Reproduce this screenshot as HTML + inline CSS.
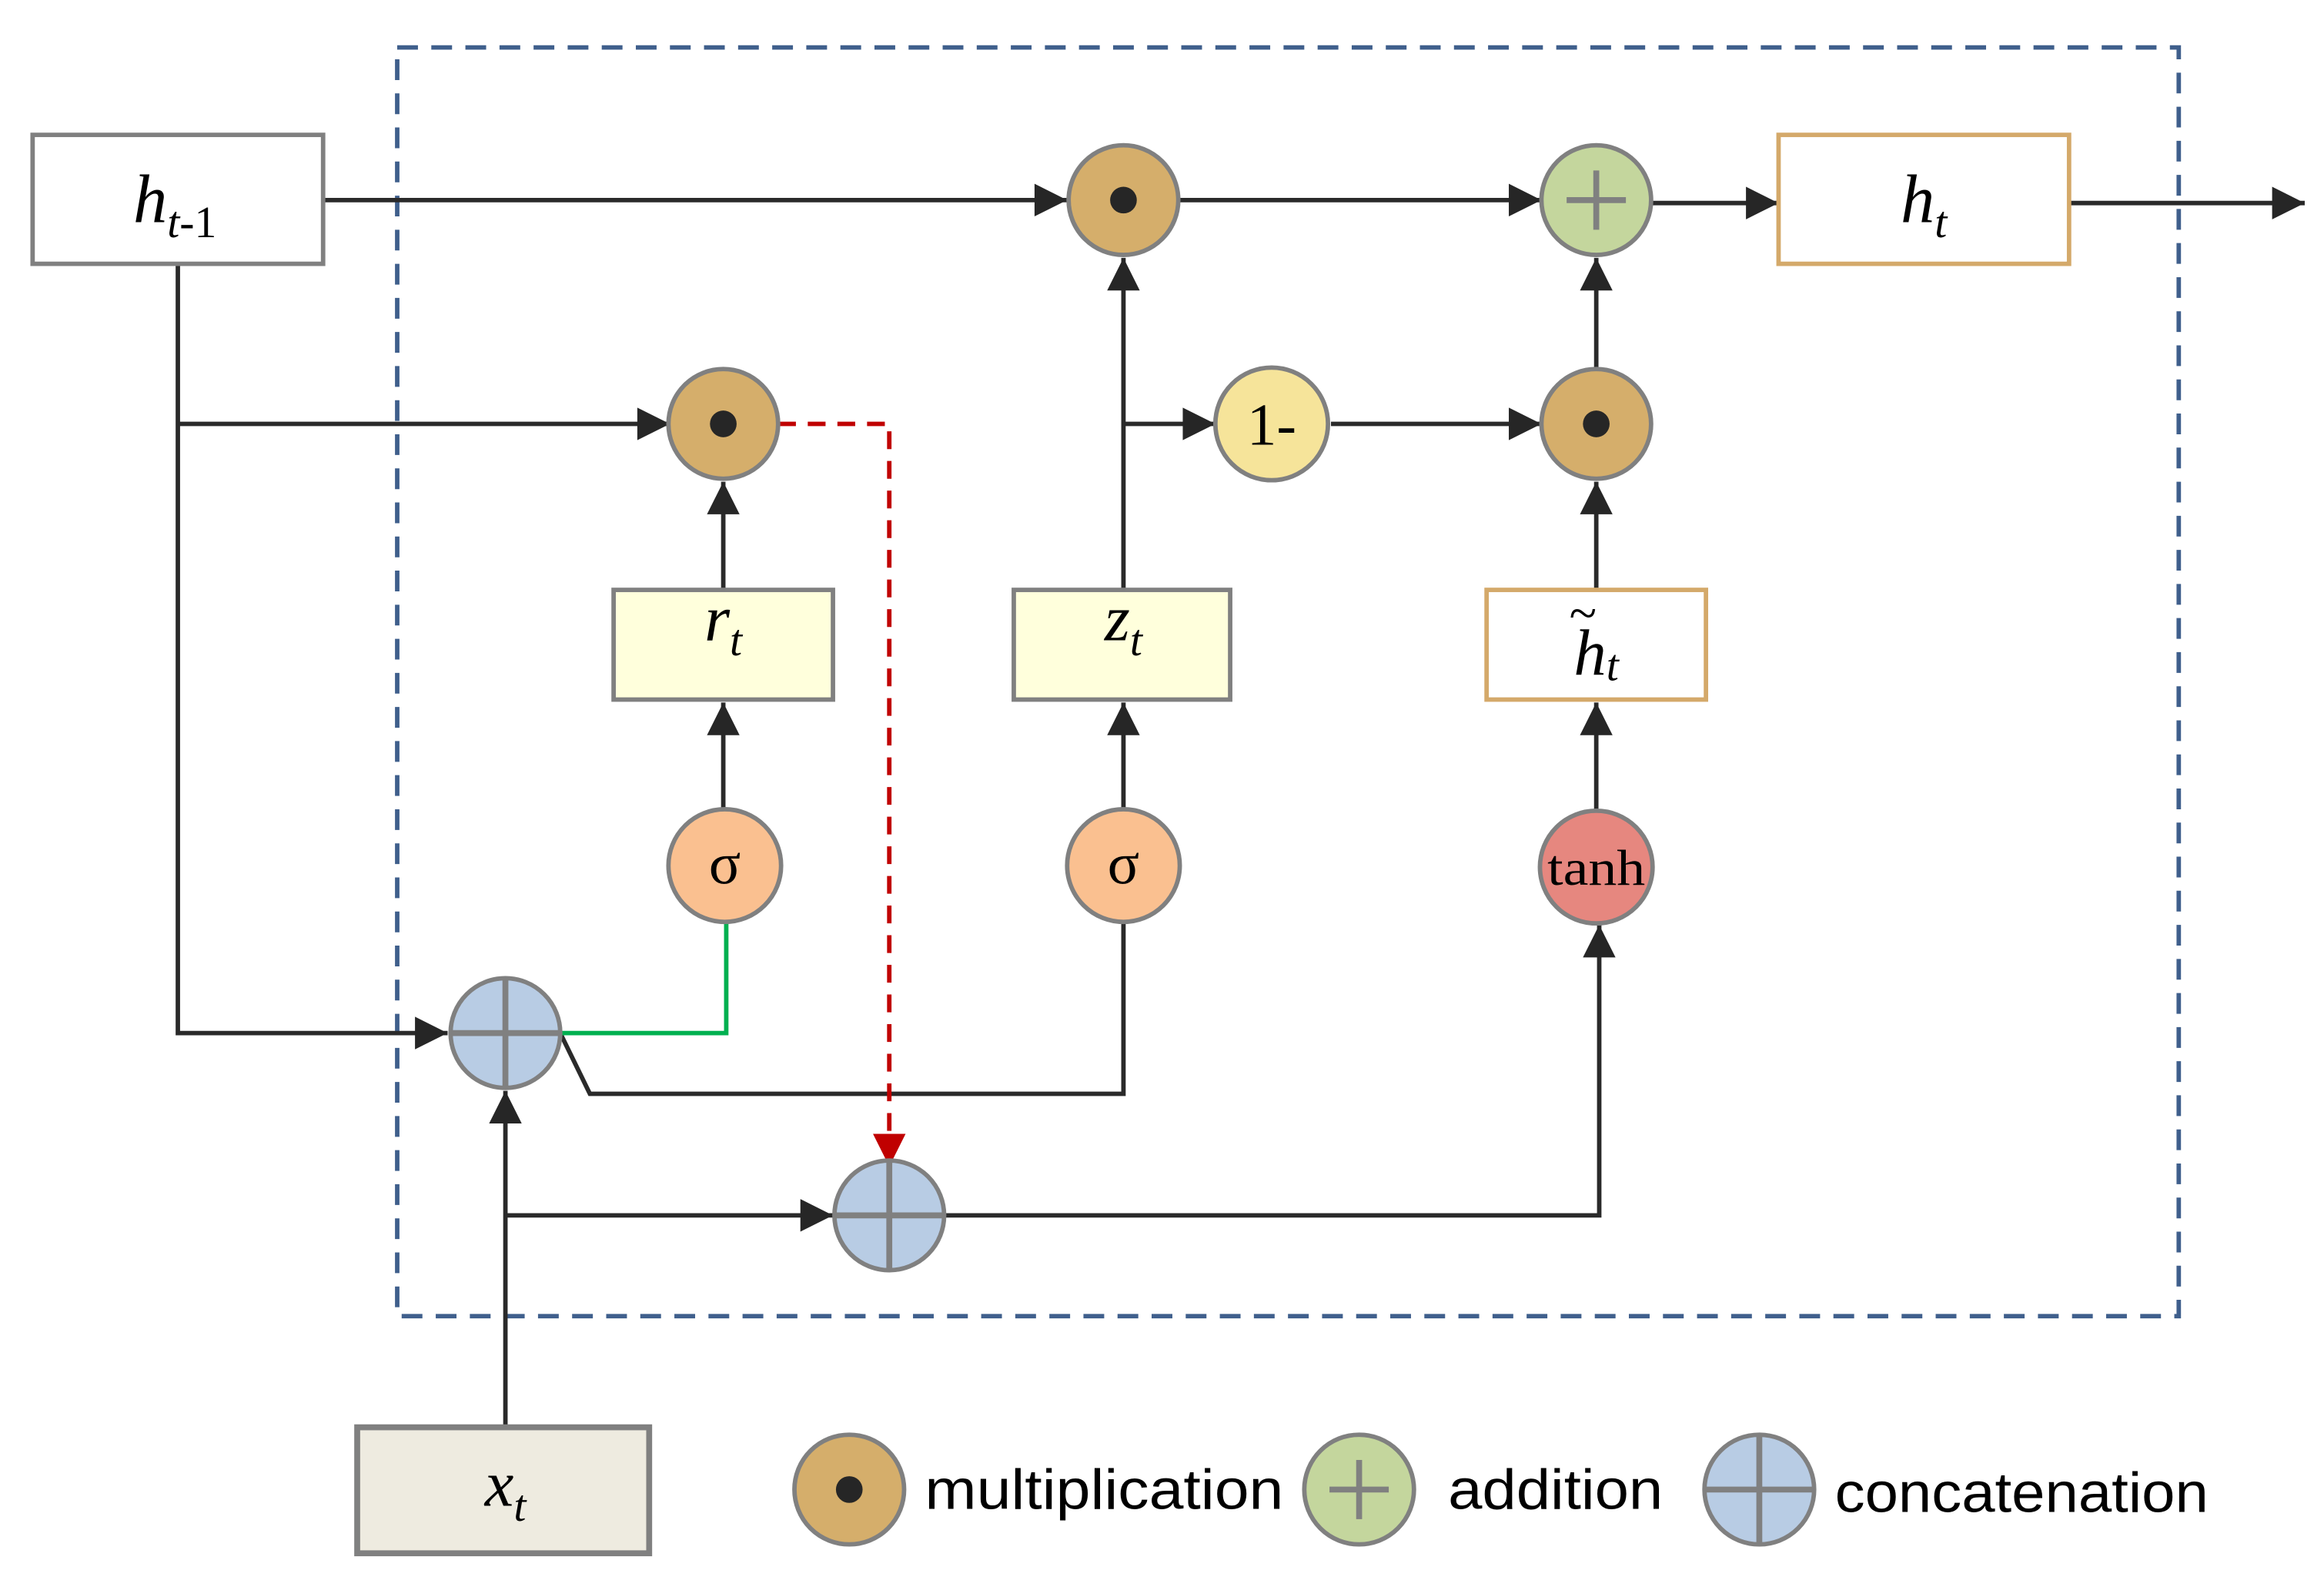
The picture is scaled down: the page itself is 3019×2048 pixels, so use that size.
<!DOCTYPE html>
<html><head><meta charset="utf-8"><style>
html,body{margin:0;padding:0;background:#fff}
svg{display:block}
</style></head><body>
<svg width="3019" height="2048" viewBox="0 0 1568 1064" preserveAspectRatio="none" xmlns="http://www.w3.org/2000/svg">
<g fill="none">
<rect x="268" y="32" width="1202" height="856" stroke="#3f5f8c" stroke-width="3" stroke-dasharray="14,9"/>
</g>
<g fill="none" stroke="#2a2a2a" stroke-width="3">
<path d="M218,135 H720"/><path d="M698,124 l22,11 l-22,11z" fill="#262626" stroke="none"/>
<path d="M795,135 H1040"/><path d="M1018,124 l22,11 l-22,11z" fill="#262626" stroke="none"/>
<path d="M1114,137 H1200"/><path d="M1178,126 l22,11 l-22,11z" fill="#262626" stroke="none"/>
<path d="M1396,137 H1555"/><path d="M1533,126 l22,11 l-22,11z" fill="#262626" stroke="none"/>
<path d="M120,178 V697 H302"/><path d="M280,686 l22,11 l-22,11z" fill="#262626" stroke="none"/>
<path d="M120,286 H452"/><path d="M430,275 l22,11 l-22,11z" fill="#262626" stroke="none"/>
<path d="M488,398 V325"/><path d="M477,347 l11,-22 l11,22z" fill="#262626" stroke="none"/>
<path d="M488,546 V474"/><path d="M477,496 l11,-22 l11,22z" fill="#262626" stroke="none"/>
<path d="M758,398 V174"/><path d="M747,196 l11,-22 l11,22z" fill="#262626" stroke="none"/>
<path d="M758,546 V474"/><path d="M747,496 l11,-22 l11,22z" fill="#262626" stroke="none"/>
<path d="M758,286 H820"/><path d="M798,275 l22,11 l-22,11z" fill="#262626" stroke="none"/>
<path d="M898,286 H1040"/><path d="M1018,275 l22,11 l-22,11z" fill="#262626" stroke="none"/>
<path d="M1077,248 V174"/><path d="M1066,196 l11,-22 l11,22z" fill="#262626" stroke="none"/>
<path d="M1077,398 V325"/><path d="M1066,347 l11,-22 l11,22z" fill="#262626" stroke="none"/>
<path d="M1077,546 V474"/><path d="M1066,496 l11,-22 l11,22z" fill="#262626" stroke="none"/>
<path d="M378,697 L398,738 H758 V622"/>
<path d="M341,963 V736"/><path d="M330,758 l11,-22 l11,22z" fill="#262626" stroke="none"/>
<path d="M341,820 H562"/><path d="M540,809 l22,11 l-22,11z" fill="#262626" stroke="none"/>
<path d="M637,820 H1079 V624"/><path d="M1068,646 l11,-22 l11,22z" fill="#262626" stroke="none"/>
</g>
<path d="M378,697 H490 V622" fill="none" stroke="#00b050" stroke-width="3"/>
<path d="M525,286 H600 V768" fill="none" stroke="#c00000" stroke-width="3" stroke-dasharray="12,8"/>
<path d="M589,765 l11,22 l11,-22z" fill="#c00000"/>
<g stroke-width="3">
<rect x="22" y="91" width="196" height="87" fill="#fff" stroke="#808080"/>
<rect x="1200" y="91" width="196" height="87" fill="#fff" stroke="#d4a96a"/>
<rect x="414" y="398" width="148" height="74" fill="#ffffdc" stroke="#808080"/>
<rect x="684" y="398" width="146" height="74" fill="#ffffdc" stroke="#808080"/>
<rect x="1003" y="398" width="148" height="74" fill="#fff" stroke="#d4a96a"/>
<rect x="241" y="963" width="197" height="85" fill="#eeebe0" stroke="#808080" stroke-width="4"/>
</g>
<g stroke="#808080" stroke-width="3">
<circle cx="758" cy="135" r="37" fill="#d5ae6b"/>
<circle cx="488" cy="286" r="37" fill="#d5ae6b"/>
<circle cx="1077" cy="286" r="37" fill="#d5ae6b"/>
<circle cx="1077" cy="135" r="37" fill="#c4d69d"/>
<circle cx="858" cy="286" r="38" fill="#f6e49a"/>
<circle cx="489" cy="584" r="38" fill="#fac090"/>
<circle cx="758" cy="584" r="38" fill="#fac090"/>
<circle cx="1077" cy="585" r="38" fill="#e6877f"/>
<circle cx="341" cy="697" r="37" fill="#b8cce4"/>
<circle cx="600" cy="820" r="37" fill="#b8cce4"/>
<circle cx="573" cy="1005" r="37" fill="#d5ae6b"/>
<circle cx="917" cy="1005" r="37" fill="#c4d69d"/>
<circle cx="1187" cy="1005" r="37" fill="#b8cce4"/>
</g>
<g fill="#262626">
<circle cx="758" cy="135" r="9"/><circle cx="488" cy="286" r="9"/><circle cx="1077" cy="286" r="9"/><circle cx="573" cy="1005" r="9"/>
</g>
<g stroke="#808080" stroke-width="4" fill="none">
<path d="M1057,135 H1097 M1077,115 V155"/>
<path d="M304,697 H378 M341,660 V734"/>
<path d="M563,820 H637 M600,783 V857"/>
<path d="M897,1005 H937 M917,985 V1025"/>
<path d="M1150,1005 H1224 M1187,968 V1042"/>
</g>
<g font-family="Liberation Serif, serif" fill="#000" text-anchor="middle">
<text x="118" y="150" font-size="46" font-style="italic">h<tspan font-size="30" dy="10">t</tspan><tspan font-size="30" font-style="normal">-1</tspan></text>
<text x="1298" y="150" font-size="46" font-style="italic">h<tspan font-size="30" dy="10">t</tspan></text>
<text x="488" y="432" font-size="44" font-style="italic">r<tspan font-size="30" dy="10">t</tspan></text>
<text x="758" y="432" font-size="44" font-style="italic">z<tspan font-size="30" dy="10">t</tspan></text>
<text x="1077" y="455" font-size="44" font-style="italic">h<tspan font-size="30" dy="4">t</tspan></text>
<text x="1068" y="425" font-size="34">~</text>
<text x="341" y="1016" font-size="44" font-style="italic">x<tspan font-size="30" dy="10">t</tspan></text>
<text x="858" y="300" font-size="40">1-</text>
<text x="489" y="596" font-size="40">σ</text>
<text x="758" y="596" font-size="40">σ</text>
<text x="1077" y="597" font-size="34" textLength="66" lengthAdjust="spacingAndGlyphs">tanh</text>
</g>
<g font-family="Liberation Sans, sans-serif" font-size="38" fill="#000">
<text x="624" y="1018" textLength="242" lengthAdjust="spacingAndGlyphs">multiplication</text>
<text x="977" y="1018" textLength="145" lengthAdjust="spacingAndGlyphs">addition</text>
<text x="1238" y="1020" textLength="252" lengthAdjust="spacingAndGlyphs">concatenation</text>
</g>
</svg>
</body></html>
